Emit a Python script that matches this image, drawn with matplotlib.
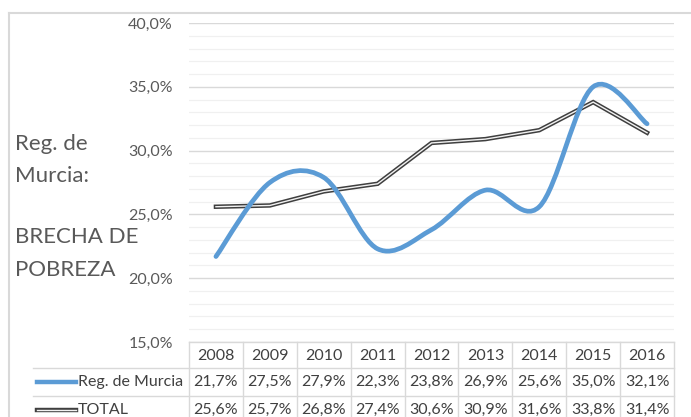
import matplotlib.pyplot as plt
from matplotlib.path import Path
from matplotlib.patches import PathPatch
from matplotlib.lines import Line2D
import numpy as np

years = ["2008", "2009", "2010", "2011", "2012", "2013", "2014", "2015", "2016"]
murcia = [21.7, 27.5, 27.9, 22.3, 23.8, 26.9, 25.6, 35.0, 32.1]
total = [25.6, 25.7, 26.8, 27.4, 30.6, 30.9, 31.6, 33.8, 31.4]
series_names = ["Reg. de Murcia", "TOTAL"]

BLUE = "#5B9BD5"
DARK = "#3f3f3f"
GRID = "#d9d9d9"
TXT = "#404040"
FS = 11.5

plt.rcParams['font.family'] = ['Lato', 'DejaVu Sans']

W, H = 691, 417
fig = plt.figure(figsize=(W / 100, H / 100), dpi=100)


def fx(px):
    return px / W


def fy(py):
    return 1 - py / H


def pct(v):
    return f"{v:.1f}%".replace(".", ",")


x0, x1 = 189, 674
ytop, ybot = 23, 342
ax = fig.add_axes([fx(x0), fy(ybot), fx(x1) - fx(x0), fy(ytop) - fy(ybot)])
n = len(years)
ax.set_xlim(-0.5, n - 0.5)
ax.set_ylim(15, 40)
ax.set_yticks(np.arange(15, 41, 5))
ax.set_yticks(np.arange(15, 41, 1), minor=True)
ax.set_yticklabels([pct(v) for v in np.arange(15, 41, 5)], fontsize=FS, color="#595959")
ax.tick_params(axis='y', which='both', length=0, pad=11.5)
ax.set_xticks([])
for s in ax.spines.values():
    s.set_visible(False)
ax.grid(axis='y', which='major', color=GRID, lw=1.0)
ax.grid(axis='y', which='minor', color="#f0f0f0", lw=0.9)
ax.set_axisbelow(True)

# TOTAL: double line
xs = np.arange(n)
ax.plot(xs, total, color=DARK, lw=3.2, solid_joinstyle='miter', zorder=3)
ax.plot(xs, total, color="#f2f2f2", lw=1.0, solid_joinstyle='miter', zorder=4)

# Murcia: smoothed line (Excel-style Bezier through the points)
P = np.column_stack([xs, murcia]).astype(float)
verts = [tuple(P[0])]
codes = [Path.MOVETO]
for i in range(n - 1):
    p0 = P[i - 1] if i > 0 else P[i]
    p1 = P[i]
    p2 = P[i + 1]
    p3 = P[i + 2] if i + 2 < n else P[i + 1]
    c1 = p1 + (p2 - p0) / 6
    c2 = p2 - (p3 - p1) / 6
    verts += [tuple(c1), tuple(c2), tuple(p2)]
    codes += [Path.CURVE4] * 3
ax.add_patch(PathPatch(Path(verts, codes), fill=False, edgecolor=BLUE, lw=3.4,
                       capstyle='round', zorder=5))

# outer border
fig.add_artist(Line2D([fx(8.5), fx(8.5)], [fy(12.5), fy(H)], color=GRID, lw=1.5))
fig.add_artist(Line2D([fx(8.5), fx(W)], [fy(12.5), fy(12.5)], color=GRID, lw=1.5))

# left title text
for txt, py in [("Reg. de", 150), ("Murcia:", 182), ("BRECHA DE", 243), ("POBREZA", 276)]:
    fig.text(fx(15), fy(py), txt, fontsize=16, color="#595959", va='baseline', ha='left')

# data table
colw = (x1 - x0) / n
r0, r1, r2, r3 = 342, 368, 396, 420
lc = "#d9d9d9"
fig.add_artist(Line2D([fx(x0), fx(x1)], [fy(r0), fy(r0)], color=lc, lw=1))
for r in (r1, r2):
    fig.add_artist(Line2D([fx(33), fx(x1)], [fy(r), fy(r)], color=lc, lw=1))
for i in range(n + 1):
    xx = x0 + i * colw
    fig.add_artist(Line2D([fx(xx), fx(xx)], [fy(r0), fy(r3)], color=lc, lw=1))

ty0, ty1, ty2 = 356, 382, 410
for i, yr in enumerate(years):
    cx = x0 + (i + 0.5) * colw
    fig.text(fx(cx), fy(ty0), yr, fontsize=FS, color=TXT, ha='center', va='center')
    fig.text(fx(cx), fy(ty1), pct(murcia[i]), fontsize=FS, color=TXT, ha='center', va='center')
    fig.text(fx(cx), fy(ty2), pct(total[i]), fontsize=FS, color=TXT, ha='center', va='center')

# legend keys
fig.add_artist(Line2D([fx(37), fx(76)], [fy(ty1), fy(ty1)], color=BLUE, lw=3.2))
fig.text(fx(78), fy(ty1), series_names[0], fontsize=FS, color=TXT, ha='left', va='center')
fig.add_artist(Line2D([fx(37), fx(76)], [fy(ty2), fy(ty2)], color=DARK, lw=3.2))
fig.add_artist(Line2D([fx(37), fx(76)], [fy(ty2), fy(ty2)], color="#f2f2f2", lw=1.0))
fig.text(fx(78), fy(ty2), series_names[1], fontsize=FS, color=TXT, ha='left', va='center')

fig.savefig("out.png", dpi=100)
